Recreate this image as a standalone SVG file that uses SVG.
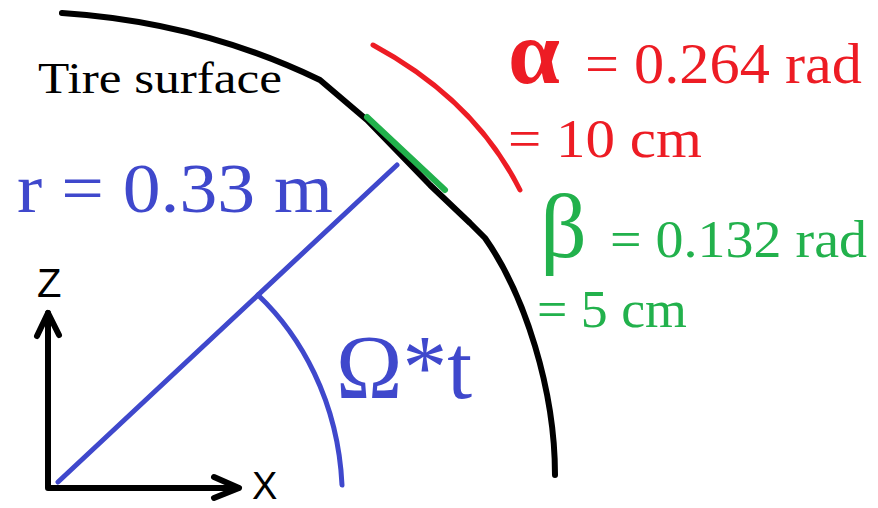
<svg xmlns="http://www.w3.org/2000/svg" width="878" height="508" viewBox="0 0 878 508">
<style>
.ln{fill:none;stroke-linecap:round;stroke-linejoin:round}
.blk{stroke:#000;stroke-width:6}
.blu{stroke:#3f48cc;stroke-width:5}
.red{stroke:#ed1c24;stroke-width:5}
.grn{stroke:#22b14c;stroke-width:6}
.serif{font-family:"Liberation Serif","Times New Roman",serif}
.sans{font-family:"Liberation Sans",Arial,sans-serif}
.tb{fill:#3f48cc}.tr{fill:#ed1c24}.tg{fill:#22b14c}
</style>
<rect width="878" height="508" fill="#fff"/>
<g id="tire">
<path class="ln blk" d="M62,13 Q200,22 320,80 L367,120 L430,185 L470,223 L485,238 C525,295 555,390 555,475"/>
<text class="serif" x="38" y="93" font-size="45" textLength="244" lengthAdjust="spacingAndGlyphs">Tire surface</text>
</g>
<g id="alpha">
<path class="ln red" d="M373,45 Q475,100 520,190"/>
<text class="serif tr" x="508" y="83" font-size="90" font-weight="bold" textLength="52" lengthAdjust="spacingAndGlyphs">α</text>
<text class="serif tr" x="585" y="83" font-size="56" textLength="277" lengthAdjust="spacingAndGlyphs">= 0.264 rad</text>
<text class="serif tr" x="508" y="157" font-size="55" textLength="194" lengthAdjust="spacingAndGlyphs">= 10 cm</text>
</g>
<g id="beta">
<path class="ln grn" d="M367,117 L445,190"/>
<text class="serif tg" x="540" y="257" font-size="92">β</text>
<text class="serif tg" x="610" y="257" font-size="52" textLength="257" lengthAdjust="spacingAndGlyphs">= 0.132 rad</text>
<text class="serif tg" x="537" y="327" font-size="52" textLength="150" lengthAdjust="spacingAndGlyphs">= 5 cm</text>
</g>
<g id="radius">
<path class="ln blu" d="M58,482 L397,165"/>
<text class="serif tb" x="17" y="212" font-size="70" textLength="316" lengthAdjust="spacingAndGlyphs">r = 0.33 m</text>
</g>
<g id="angle">
<path class="ln blu" d="M258,295 C300,335 338,400 342,485"/>
<text class="serif tb" x="336" y="398" font-size="90" textLength="136" lengthAdjust="spacingAndGlyphs">Ω*t</text>
</g>
<g id="connectors">
<path class="ln blk" d="M48,313 L48,488 L238,488"/>
<path class="ln blk" d="M37,336 L48,313 L59,335"/>
<path class="ln blk" d="M214,477 L239,488 L214,498"/>
</g>
<g id="axes-labels">
<text class="sans" x="37" y="297" font-size="40">Z</text>
<text class="sans" x="252" y="499" font-size="38">X</text>
</g>
</svg>
